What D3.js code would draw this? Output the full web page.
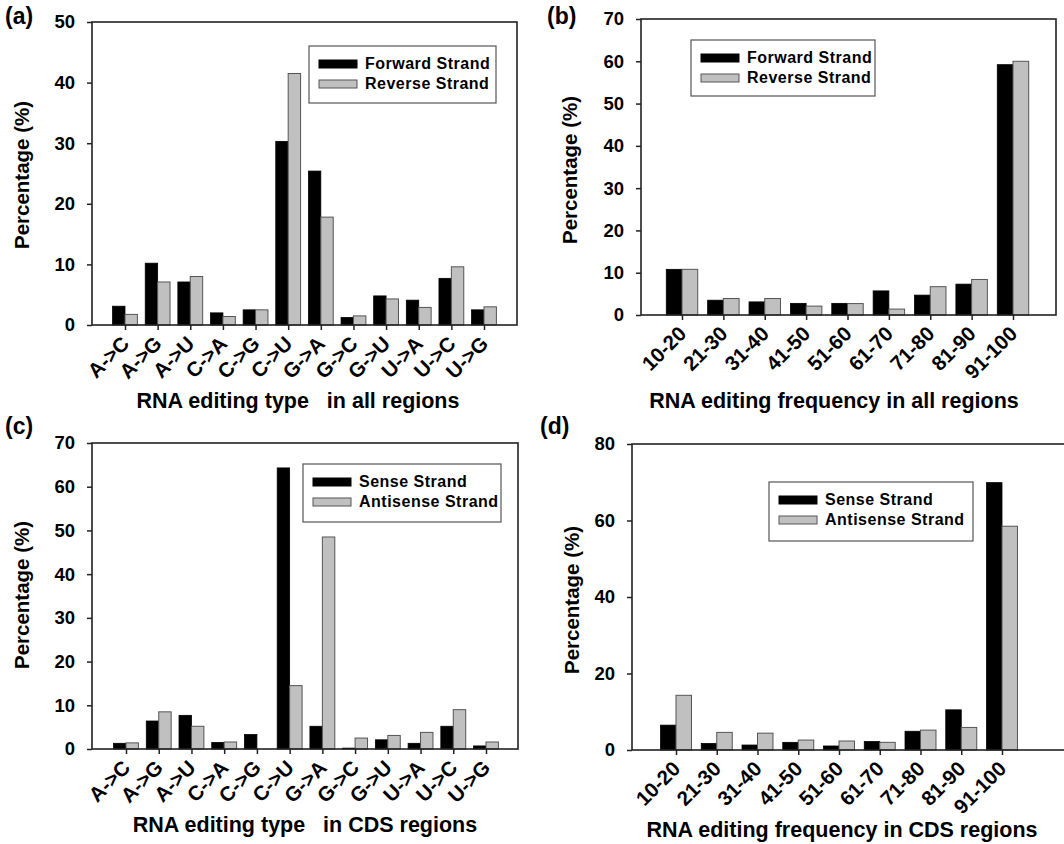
<!DOCTYPE html>
<html>
<head>
<meta charset="utf-8">
<script src="https://cdn.jsdelivr.net/npm/d3@7"></script>
<style>
  body { margin: 0; background: #fff; }
  text { font-family: "Liberation Sans", Arial, sans-serif; font-weight: bold; fill: #000; }
</style>
</head>
<body>
<svg width="1064" height="844"></svg>
<script>
// categories
const editTypes = ['A->C', 'A->G', 'A->U', 'C->A', 'C->G', 'C->U', 'G->A', 'G->C', 'G->U', 'U->A', 'U->C', 'U->G']
const freqBins = ['10-20', '21-30', '31-40', '41-50', '51-60', '61-70', '71-80', '81-90', '91-100']

// (a) editing type, all regions
const allTypeForward = [3.1, 10.2, 7.1, 2.0, 2.5, 30.3, 25.4, 1.25, 4.8, 4.1, 7.7, 2.5]
const allTypeReverse = [1.75, 7.1, 8.0, 1.4, 2.5, 41.5, 17.8, 1.5, 4.3, 2.9, 9.6, 3.0]
// (b) editing frequency, all regions
const allFreqForward = [10.8, 3.5, 3.1, 2.75, 2.75, 5.7, 4.7, 7.3, 59.2]
const allFreqReverse = [10.8, 3.9, 3.9, 2.1, 2.7, 1.4, 6.7, 8.4, 60.0]
// (c) editing type, CDS regions
const cdsTypeSense = [1.3, 6.4, 7.7, 1.5, 3.3, 64.3, 5.2, 0.2, 2.1, 1.3, 5.2, 0.7]
const cdsTypeAntisense = [1.4, 8.5, 5.2, 1.6, 0, 14.5, 48.5, 2.5, 3.1, 3.8, 9.0, 1.6]
// (d) editing frequency, CDS regions
const cdsFreqSense = [6.5, 1.7, 1.3, 2.0, 1.05, 2.2, 4.9, 10.5, 69.9]
const cdsFreqAntisense = [14.3, 4.6, 4.4, 2.6, 2.35, 2.0, 5.2, 5.9, 58.5]

// tick labels
const ticks50 = [0, 10, 20, 30, 40, 50]
const ticks70 = [0, 10, 20, 30, 40, 50, 60, 70]
const ticks80 = [0, 20, 40, 60, 80]

const strandFR = ['Forward Strand', 'Reverse Strand']
const strandSA = ['Sense Strand', 'Antisense Strand']

const GREY = '#c0c0c0'
const svg = d3.select('svg')

const panels = [
    { tag: '(a)', tagPos: [5, 24], cats: editTypes, s1: allTypeForward, s2: allTypeReverse, names: strandFR,
      ticks: ticks50, frame: { l: 92, r: 517, t: 22, b: 325 }, xRange: [125, 484],
      xTitle: 'RNA editing type   in all regions', xTitlePos: [298, 408], yTitlePos: [29, 175],
      legend: { x: 309, y: 46, w: 187, h: 57 } },
    { tag: '(b)', tagPos: [547, 24], cats: freqBins, s1: allFreqForward, s2: allFreqReverse, names: strandFR,
      ticks: ticks70, frame: { l: 641, r: 1056, t: 19, b: 315 }, xRange: [682, 1013],
      xTitle: 'RNA editing frequency in all regions', xTitlePos: [834, 408], yTitlePos: [577, 170],
      legend: { x: 691, y: 40, w: 184, h: 56 } },
    { tag: '(c)', tagPos: [5, 434], cats: editTypes, s1: cdsTypeSense, s2: cdsTypeAntisense, names: strandSA,
      ticks: ticks70, frame: { l: 92, r: 518, t: 443, b: 749 }, xRange: [126, 486],
      xTitle: 'RNA editing type   in CDS regions', xTitlePos: [305, 832], yTitlePos: [29, 595],
      legend: { x: 303, y: 464, w: 198, h: 58 } },
    { tag: '(d)', tagPos: [540, 434], cats: freqBins, s1: cdsFreqSense, s2: cdsFreqAntisense, names: strandSA,
      ticks: ticks80, frame: { l: 632, r: 1066, t: 444, b: 750 }, xRange: [676, 1002],
      xTitle: 'RNA editing frequency in CDS regions', xTitlePos: [842, 837], yTitlePos: [579, 600],
      legend: { x: 769, y: 482, w: 204, h: 59 } }
]

function drawPanel(p) {
    const g = svg.append('g')
    const x = d3.scalePoint().domain(p.cats).range(p.xRange)
    const y = d3.scaleLinear().domain([0, d3.max(p.ticks)]).range([p.frame.b, p.frame.t])
    const bw = x.step() * 0.38

    // bars, first series left of the tick, second right of it
    g.selectAll('.s1')
        .data(p.cats)
        .join('rect')
        .attr('x', d => x(d) - bw)
        .attr('y', (d, i) => y(p.s1[i]))
        .attr('width', bw)
        .attr('height', (d, i) => y(0) - y(p.s1[i]))
        .attr('fill', '#000')
        .attr('stroke', '#000')
        .attr('stroke-width', 0.8)

    g.selectAll('.s2')
        .data(p.cats)
        .join('rect')
        .attr('x', d => x(d))
        .attr('y', (d, i) => y(p.s2[i]))
        .attr('width', bw)
        .attr('height', (d, i) => y(0) - y(p.s2[i]))
        .attr('fill', GREY)
        .attr('stroke', '#555')
        .attr('stroke-width', 1)

    // frame
    g.append('rect')
        .attr('x', p.frame.l)
        .attr('y', p.frame.t)
        .attr('width', p.frame.r - p.frame.l)
        .attr('height', p.frame.b - p.frame.t)
        .attr('fill', 'none')
        .attr('stroke', '#222')
        .attr('stroke-width', 1.6)

    // y axis
    const ya = g.append('g')
        .attr('transform', `translate(${p.frame.l},0)`)
        .call(d3.axisLeft(y).tickValues(p.ticks).tickSize(5).tickPadding(12))
    ya.select('.domain').remove()
    ya.selectAll('line').attr('stroke', '#222').attr('stroke-width', 1.5)
    ya.selectAll('text').attr('font-size', 18.5).attr('font-family', null).attr('fill', null)

    // x axis
    const xa = g.append('g')
        .attr('transform', `translate(0,${p.frame.b})`)
        .call(d3.axisBottom(x).tickSize(5))
    xa.select('.domain').remove()
    xa.selectAll('line').attr('stroke', '#222').attr('stroke-width', 1.5)
    xa.selectAll('text')
        .attr('y', 0)
        .attr('dy', 0)
        .attr('text-anchor', 'end')
        .attr('transform', 'translate(5,20) rotate(-45)')
        .attr('font-size', 20.5)
        .attr('font-family', null)
        .attr('fill', null)

    // titles
    g.append('text')
        .attr('x', p.xTitlePos[0])
        .attr('y', p.xTitlePos[1])
        .attr('text-anchor', 'middle')
        .attr('font-size', 21.5)
        .style('white-space', 'pre')
        .text(p.xTitle)

    g.append('text')
        .attr('transform', `translate(${p.yTitlePos[0]},${p.yTitlePos[1]}) rotate(-90)`)
        .attr('text-anchor', 'middle')
        .attr('font-size', 20.5)
        .text('Percentage (%)')

    g.append('text')
        .attr('x', p.tagPos[0])
        .attr('y', p.tagPos[1])
        .attr('font-size', 23)
        .text(p.tag)

    // legend
    const lg = g.append('g').attr('transform', `translate(${p.legend.x},${p.legend.y})`)
    lg.append('rect')
        .attr('width', p.legend.w)
        .attr('height', p.legend.h)
        .attr('fill', '#fff')
        .attr('stroke', '#555')
        .attr('stroke-width', 1.2)
    const item = lg.selectAll('.item')
        .data(p.names)
        .join('g')
        .attr('transform', (d, i) => `translate(10,${14 + i * 20})`)
    item.append('rect')
        .attr('width', 38)
        .attr('height', 8)
        .attr('fill', (d, i) => i === 0 ? '#000' : GREY)
        .attr('stroke', (d, i) => i === 0 ? '#000' : '#555')
    item.append('text')
        .attr('x', 46)
        .attr('y', 9)
        .attr('font-size', 16)
        .attr('letter-spacing', 0.5)
        .text(d => d)
}

panels.forEach(drawPanel)
</script>
</body>
</html>
